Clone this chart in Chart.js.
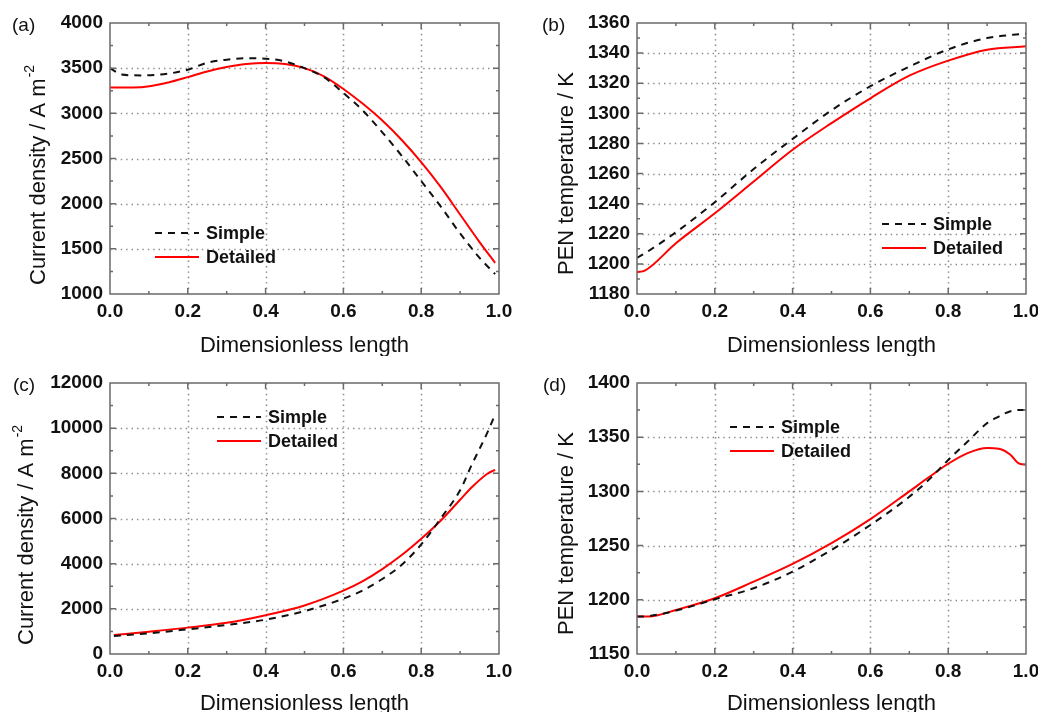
<!DOCTYPE html>
<html>
<head>
<meta charset="utf-8">
<script src="https://cdn.jsdelivr.net/npm/chart.js@4"></script>
<style>
  html, body { margin: 0; padding: 0; background: #fff; overflow: hidden; }
  body { width: 1038px; height: 712px; position: relative; }
  canvas { position: absolute; }
</style>
</head>
<body>
<canvas id="chartA" width="519" height="356" style="left:0;top:0"></canvas>
<canvas id="chartB" width="540" height="356" style="left:519px;top:0"></canvas>
<canvas id="chartC" width="519" height="370" style="left:0;top:356px"></canvas>
<canvas id="chartD" width="540" height="370" style="left:519px;top:356px"></canvas>
<script>
// panel (a) current density, case 1
const xA = [0, 0.03, 0.08, 0.15, 0.2, 0.25, 0.3, 0.35, 0.4, 0.45, 0.5, 0.55, 0.6, 0.65, 0.7, 0.75, 0.8, 0.85, 0.9, 0.95, 0.99];
const simpleA = [3500, 3430, 3420, 3440, 3483, 3560, 3594, 3610, 3605, 3575, 3500, 3400, 3225, 3030, 2790, 2530, 2250, 1970, 1670, 1400, 1220];
const detailedA = [3287, 3287, 3290, 3342, 3401, 3464, 3512, 3545, 3557, 3545, 3500, 3410, 3270, 3105, 2920, 2705, 2460, 2185, 1880, 1575, 1345];

// panel (b) PEN temperature, case 1
const xB = [0, 0.02, 0.1, 0.2, 0.3, 0.4, 0.5, 0.6, 0.7, 0.8, 0.9, 1.0];
const simpleB = [1204, 1207, 1221, 1241, 1263, 1283, 1302, 1318, 1331, 1342.5, 1350, 1353];
const detailedB = [1194.5, 1195.5, 1213.7, 1233.6, 1254.7, 1275.8, 1293.5, 1310, 1325, 1335, 1342.3, 1344.5];

// panel (c) current density, case 2
const xC = [0.01, 0.1, 0.2, 0.3, 0.4, 0.5, 0.6, 0.65, 0.7, 0.75, 0.8, 0.85, 0.9, 0.93, 0.97, 0.99];
const simpleC = [798, 916, 1094, 1286, 1520, 1900, 2450, 2820, 3320, 3950, 4850, 6000, 7250, 8380, 9800, 10600];
const detailedC = [842, 990, 1168, 1380, 1720, 2150, 2806, 3230, 3760, 4380, 5100, 5900, 6830, 7380, 7980, 8157];

// panel (d) PEN temperature, case 2
const xD = [0, 0.03, 0.1, 0.2, 0.3, 0.4, 0.5, 0.6, 0.7, 0.75, 0.8, 0.85, 0.9, 0.93, 0.96, 0.98, 1.0];
const simpleD = [1184.5, 1185, 1190, 1200.5, 1210.7, 1226, 1246, 1269, 1295, 1310.7, 1329, 1346, 1363, 1369, 1374, 1375, 1375];
const detailedD = [1184.5, 1184.5, 1190.6, 1201.4, 1216.8, 1233.1, 1252.2, 1274.4, 1300, 1313, 1325.5, 1335.3, 1340, 1339.3, 1333.8, 1326, 1324.6];

const seriesNames = ['Simple', 'Detailed'];
const xTitle = 'Dimensionless length';

const FONT = '"Liberation Sans", Arial, sans-serif';

function pts(xs, ys) {
    return xs.map((x, i) => ({ x: x, y: ys[i] }));
}

// grid, frame, inward ticks, titles and legend
const decoPlugin = {
    id: 'deco',
    beforeDatasetsDraw(chart, args, o) {
        const ctx = chart.ctx;
        const a = chart.chartArea;
        const xs = chart.scales.x, ys = chart.scales.y;
        ctx.save();
        ctx.strokeStyle = '#8a8a8a';
        ctx.lineWidth = 1.6;
        ctx.setLineDash([1.4, 4]);
        for (let v = 0.2; v < 0.99; v += 0.2) {
            const px = Math.round(xs.getPixelForValue(v)) + 0.5;
            ctx.beginPath(); ctx.moveTo(px, a.top); ctx.lineTo(px, a.bottom); ctx.stroke();
        }
        for (let v = ys.min + o.step; v < ys.max - 1e-6; v += o.step) {
            const py = Math.round(ys.getPixelForValue(v)) + 0.5;
            ctx.beginPath(); ctx.moveTo(a.left, py); ctx.lineTo(a.right, py); ctx.stroke();
        }
        ctx.restore();
    },
    afterDatasetsDraw(chart, args, o) {
        const ctx = chart.ctx;
        const a = chart.chartArea;
        const xs = chart.scales.x, ys = chart.scales.y;
        ctx.save();
        ctx.strokeStyle = '#6a6a6a';
        ctx.lineWidth = 1.5;
        ctx.setLineDash([]);
        ctx.strokeRect(a.left, a.top, a.right - a.left, a.bottom - a.top);
        // x ticks every 0.1, major every 0.2
        for (let i = 1; i < 10; i++) {
            const len = i % 2 === 0 ? 6 : 3;
            const px = xs.getPixelForValue(i / 10);
            ctx.beginPath();
            ctx.moveTo(px, a.bottom); ctx.lineTo(px, a.bottom - len);
            ctx.moveTo(px, a.top); ctx.lineTo(px, a.top + len);
            ctx.stroke();
        }
        const n = Math.round((ys.max - ys.min) / (o.step / 2));
        for (let i = 1; i < n; i++) {
            const len = i % 2 === 0 ? 6 : 3;
            const py = ys.getPixelForValue(ys.min + i * o.step / 2);
            ctx.beginPath();
            ctx.moveTo(a.left, py); ctx.lineTo(a.left + len, py);
            ctx.moveTo(a.right, py); ctx.lineTo(a.right - len, py);
            ctx.stroke();
        }

        ctx.fillStyle = '#111';
        // panel label
        ctx.font = '19px ' + FONT;
        ctx.textAlign = 'left';
        ctx.textBaseline = 'alphabetic';
        ctx.fillText(o.panel, o.panelX, o.panelY);

        // x title
        ctx.font = '22px ' + FONT;
        ctx.textAlign = 'center';
        ctx.fillText(xTitle, (a.left + a.right) / 2, o.xTitleY);

        // y title, rotated, with optional superscript
        ctx.save();
        ctx.translate(o.yTitleX, o.yTitleY);
        ctx.rotate(-Math.PI / 2);
        ctx.textAlign = 'left';
        ctx.font = '22px ' + FONT;
        ctx.fillText(o.yTitle, 0, 0);
        if (o.ySup) {
            const w = ctx.measureText(o.yTitle).width;
            ctx.font = '14px ' + FONT;
            ctx.fillText(o.ySup, w + 1, -11);
        }
        ctx.restore();

        // legend
        chart.data.datasets.forEach((ds, i) => {
            const y = o.legY + i * 24;
            ctx.save();
            ctx.strokeStyle = ds.borderColor;
            ctx.lineWidth = ds.borderWidth;
            ctx.setLineDash(ds.borderDash || []);
            ctx.beginPath(); ctx.moveTo(o.legX, y); ctx.lineTo(o.legX + 44, y); ctx.stroke();
            ctx.restore();
            ctx.font = 'bold 18px ' + FONT;
            ctx.textAlign = 'left';
            ctx.textBaseline = 'middle';
            ctx.fillText(ds.label, o.legX + 51, y + 1);
        });
        ctx.restore();
    }
};

function makePanel(id, xs, simple, detailed, p) {
    new Chart(document.getElementById(id), {
        type: 'line',
        data: {
            datasets: [{
                label: seriesNames[0],
                data: pts(xs, simple),
                borderColor: '#111',
                borderWidth: 2,
                borderDash: [7, 6],
                pointRadius: 0,
                cubicInterpolationMode: 'monotone'
            }, {
                label: seriesNames[1],
                data: pts(xs, detailed),
                borderColor: '#ff0000',
                borderWidth: 2,
                pointRadius: 0,
                cubicInterpolationMode: 'monotone'
            }]
        },
        options: {
            responsive: false,
            animation: false,
            devicePixelRatio: 1,
            layout: { padding: { top: p.top, right: p.right, left: 0, bottom: 0 } },
            plugins: {
                legend: { display: false },
                tooltip: { enabled: false },
                deco: p.deco
            },
            scales: {
                x: {
                    type: 'linear', min: 0, max: 1,
                    grid: { display: false, drawTicks: false },
                    border: { display: false },
                    ticks: {
                        stepSize: 0.2, autoSkip: false, maxRotation: 0, padding: 6,
                        color: '#111', font: { family: FONT, size: 19, weight: 'bold' },
                        callback: v => v.toFixed(1)
                    },
                    afterFit: s => { s.height = p.xh; }
                },
                y: {
                    min: p.min, max: p.max,
                    grid: { display: false, drawTicks: false },
                    border: { display: false },
                    ticks: {
                        stepSize: p.deco.step, autoSkip: false, padding: 7,
                        color: '#111', font: { family: FONT, size: 19, weight: 'bold' },
                        callback: v => String(Math.round(v))
                    },
                    afterFit: s => { s.width = p.yw; }
                }
            }
        },
        plugins: [decoPlugin]
    });
}

makePanel('chartA', xA, simpleA, detailedA, {
    top: 23, right: 20, yw: 110, xh: 62, min: 1000, max: 4000,
    deco: { step: 500, panel: '(a)', panelX: 12, panelY: 31, xTitleY: 352,
            yTitle: 'Current density / A m', ySup: '-2', yTitleX: 45, yTitleY: 285,
            legX: 155, legY: 233 }
});
makePanel('chartB', xB, simpleB, detailedB, {
    top: 23, right: 33, yw: 118, xh: 62, min: 1180, max: 1360,
    deco: { step: 20, panel: '(b)', panelX: 23, panelY: 31, xTitleY: 352,
            yTitle: 'PEN temperature / K', ySup: '', yTitleX: 54, yTitleY: 275,
            legX: 363, legY: 224 }
});
makePanel('chartC', xC, simpleC, detailedC, {
    top: 27, right: 20, yw: 110, xh: 72, min: 0, max: 12000,
    deco: { step: 2000, panel: '(c)', panelX: 13, panelY: 35, xTitleY: 354,
            yTitle: 'Current density / A m', ySup: '-2', yTitleX: 33, yTitleY: 289,
            legX: 217, legY: 61 }
});
makePanel('chartD', xD, simpleD, detailedD, {
    top: 27, right: 33, yw: 118, xh: 72, min: 1150, max: 1400,
    deco: { step: 50, panel: '(d)', panelX: 24, panelY: 35, xTitleY: 354,
            yTitle: 'PEN temperature / K', ySup: '', yTitleX: 54, yTitleY: 279,
            legX: 211, legY: 71 }
});
</script>
</body>
</html>
